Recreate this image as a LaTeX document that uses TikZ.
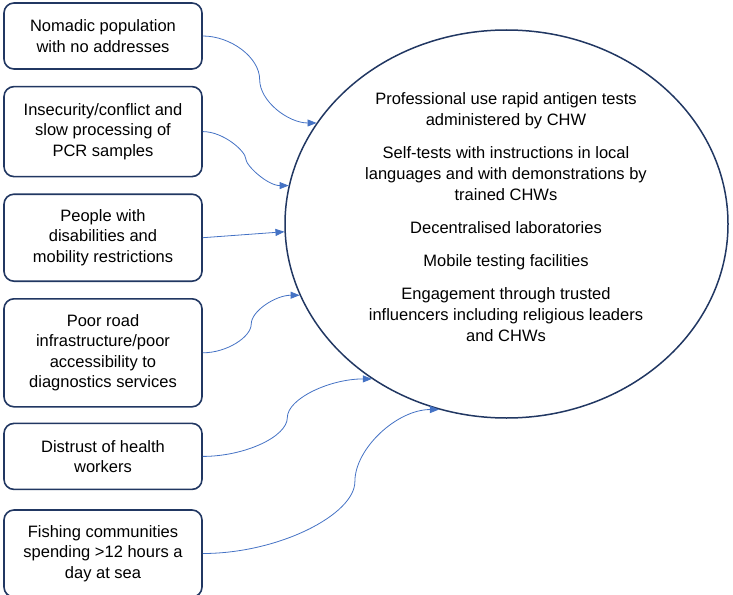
\documentclass[tikz,border=0pt]{standalone}
\usepackage{fontspec}
\setmainfont{Liberation Sans}
\usetikzlibrary{
  arrows.meta,
  positioning,
  calc,
  shapes.geometric
}
\definecolor{BoxNavy}{RGB}{33,55,98}
\definecolor{LinkBlue}{RGB}{68,114,196}
\tikzset{
  barrier/.style={draw=BoxNavy,line width=1.6pt,fill=white,rounded corners=10pt,minimum width=198pt,align=center,font=\fontsize{16.5}{20.5}\selectfont},
  hubnode/.style={ellipse,draw=BoxNavy,line width=1.5pt,minimum width=443pt,minimum height=388pt,inner sep=0pt},
  measurelist/.style={align=center,font=\fontsize{16.5}{21}\selectfont},
  link/.style={-{Triangle[length=9pt,width=7pt]},line width=0.8pt,draw=LinkBlue}
}

\begin{document}
\begin{tikzpicture}[x=1pt,y=-1pt,node distance=16pt]
\useasboundingbox (0,0) rectangle (733,594);
\node[hubnode] (hub) at (506.5,224) {};
\node[measurelist] (measures) at (506,217) {Professional use rapid antigen tests\\administered by CHW\\[12pt]Self-tests with instructions in local\\languages and with demonstrations by\\trained CHWs\\[12pt]Decentralised laboratories\\[12pt]Mobile testing facilities\\[12pt]Engagement through trusted\\influencers including religious leaders\\and CHWs};
\node[barrier,minimum height=66pt] (nomad) at (103,36) {Nomadic population\\with no addresses};
\node[barrier,minimum height=90pt,below=of nomad] (conflict) {Insecurity/conflict and\\slow processing of\\PCR samples};
\node[barrier,minimum height=87pt,below=of conflict] (disab) {People with\\disabilities and\\mobility restrictions};
\node[barrier,minimum height=108pt,below=of disab] (road) {Poor road\\infrastructure/poor\\accessibility to\\diagnostics services};
\node[barrier,minimum height=66pt,below=15pt of road] (distrust) {Distrust of health\\workers};
\node[barrier,minimum height=87pt,below=19pt of distrust] (fish) {Fishing communities\\spending >12 hours a\\day at sea};
\draw[link] (nomad.east) .. controls +(28,0) and +(0,-22) .. ($(nomad.east)!.5!(hub.152)$) .. controls +(0,22) and +(-28,0) .. (hub.152);
\draw[link] (conflict.east) .. controls +(21,0) and +(0,-7) .. ($(conflict.east)!.5!(hub.170)$) .. controls +(0,7) and +(-21,0) .. (hub.170);
\draw[link] (disab.east) -- (hub.182);
\draw[link] (road.east) .. controls +(24,0) and +(0,13) .. ($(road.east)!.5!(hub.199)$) .. controls +(0,-13) and +(-24,0) .. (hub.199);
\draw[link] (distrust.east) .. controls +(42,0) and +(0,19) .. ($(distrust.east)!.5!(hub.229)$) .. controls +(0,-19) and +(-42,0) .. (hub.229);
\draw[link] (fish.east) .. controls +(76,0) and +(0,33) .. ($(fish.east)!.5!(hub.250)+(34,0)$) .. controls +(0,-33) and +(-42,0) .. (hub.250);
\end{tikzpicture}
\end{document}
